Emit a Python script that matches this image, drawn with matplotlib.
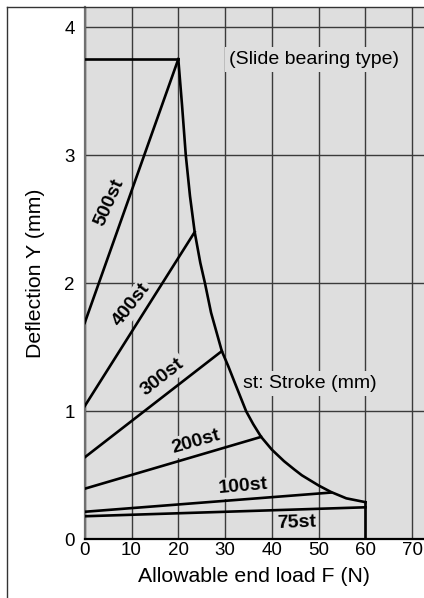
import numpy as np
import matplotlib.pyplot as plt
from matplotlib.lines import Line2D

plt.rcParams['font.family'] = ['Liberation Sans', 'DejaVu Sans']

# allowable load envelope (N, mm)
env_F = [20, 20.8, 21.6, 22.5, 23.5, 24.7, 25.7, 27.0, 29.3, 30.7, 32.1, 34.5, 36.0, 37.7,
         40, 42.6, 44.8, 46.4, 50, 52.6, 55.9, 60]
env_Y = [3.75, 3.39, 3.0, 2.68, 2.40, 2.16, 2.0, 1.77, 1.47, 1.35, 1.22, 1.0, 0.90, 0.80,
         0.70, 0.61, 0.545, 0.50, 0.42, 0.37, 0.32, 0.29]

# stroke lines: deflection at F=0 and at the envelope
strokes = ['500st', '400st', '300st', '200st', '100st', '75st']
start_Y = [1.69, 1.04, 0.64, 0.395, 0.215, 0.18]
end_F = [20, 23.5, 29.3, 37.7, 52.6, 60]
end_Y = [3.75, 2.40, 1.47, 0.80, 0.365, 0.25]

# label placement (data coords) and angle
lab_x = [5.3, 10.0, 16.6, 23.8, 33.9, 45.2]
lab_y = [2.63, 1.83, 1.27, 0.76, 0.41, 0.13]
lab_rot = [66, 52, 38, 16, 5, 2]

bg = '#dedede'

fig = plt.figure(figsize=(4.24, 5.98), dpi=100)
ax = fig.add_axes([84.7 / 424, 58.7 / 598, 1 - 84.7 / 424, (539.3 - 6.7) / 598])
ax.set_facecolor(bg)
ax.set_xlim(0, 72.5)
ax.set_ylim(0, 4.16)

ax.set_xticks(range(0, 80, 10))
ax.set_yticks(range(0, 5))
ax.tick_params(length=0, labelsize=13.5)
ax.tick_params(axis='x', pad=2)
ax.tick_params(axis='y', pad=7)
ax.grid(True, color='#3a3a3a', linewidth=1.0, zorder=0)
ax.set_axisbelow(True)
for s in ['top', 'right']:
    ax.spines[s].set_visible(False)
ax.spines['left'].set_color('#707070')
ax.spines['left'].set_linewidth(1.6)
ax.spines['bottom'].set_linewidth(1.6)

# cap line for 500st and the envelope
ax.plot([0, env_F[0]], [env_Y[0], env_Y[0]], color='black', lw=1.9, zorder=4)
ax.plot(env_F, env_Y, color='black', lw=1.9, zorder=4, solid_joinstyle='round')
ax.plot([env_F[-1], env_F[-1]], [env_Y[-1], 0], color='black', lw=1.9, zorder=4)

for name, y0, fx, fy, tx, ty, r in zip(strokes, start_Y, end_F, end_Y, lab_x, lab_y, lab_rot):
    ax.plot([0, fx], [y0, fy], color='black', lw=1.9, zorder=4)
    ax.text(tx, ty, name, fontsize=14, fontweight='bold', rotation=r,
            ha='center', va='center', rotation_mode='anchor', zorder=3,
            bbox=dict(facecolor=bg, edgecolor='none', pad=1.5))

ax.text(49.0, 3.75, '(Slide bearing type)', fontsize=14, ha='center', va='center',
        zorder=3, bbox=dict(facecolor=bg, edgecolor='none', pad=3))
ax.text(48.0, 1.22, 'st: Stroke (mm)', fontsize=14, ha='center', va='center',
        zorder=3, bbox=dict(facecolor=bg, edgecolor='none', pad=3))

ax.set_xlabel('Allowable end load F (N)', fontsize=15.3, labelpad=6)
ax.set_ylabel('Deflection Y (mm)', fontsize=15.3, labelpad=14)

# outer frame
fig.add_artist(Line2D([7 / 424, 7 / 424], [0, 1 - 6.7 / 598], transform=fig.transFigure,
                      color='#333333', lw=1.0))
fig.add_artist(Line2D([7 / 424, 1], [1 - 6.7 / 598, 1 - 6.7 / 598], transform=fig.transFigure,
                      color='#333333', lw=1.0))

fig.savefig('out.png', dpi=100)
